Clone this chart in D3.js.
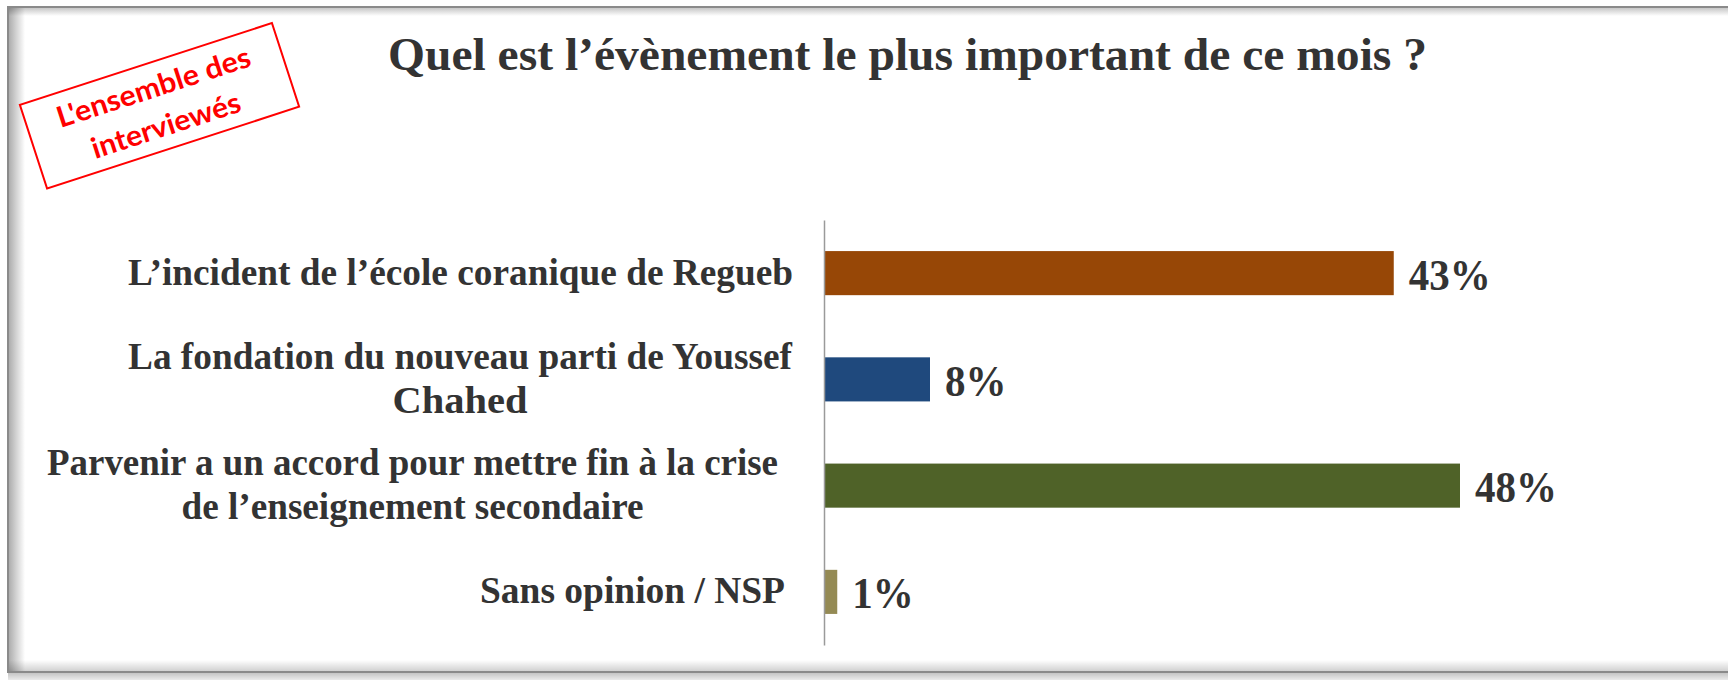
<!DOCTYPE html>
<html><head><meta charset="utf-8">
<script src="https://cdn.jsdelivr.net/npm/d3@7"></script>
<style>html,body{margin:0;padding:0;background:#fff;overflow:hidden}</style>
</head><body>
<svg id="chart" width="1728" height="680"></svg>
<script>
// ---------- data ----------
const title = "Quel est l’évènement le plus important de ce mois ?";
const stampLines = ["L'ensemble des", "interviewés"];
const categories = [
  "L’incident de l’école coranique de Regueb",
  "La fondation du nouveau parti de Youssef Chahed",
  "Parvenir a un accord pour mettre fin à la crise de l’enseignement secondaire",
  "Sans opinion / NSP"
];
const categoryLines = [
  ["L’incident de l’école  coranique de Regueb"],
  ["La fondation du nouveau parti de Youssef", "Chahed"],
  ["Parvenir a un accord pour mettre fin à la crise", "de l’enseignement secondaire"],
  ["Sans opinion / NSP"]
];
const values = [43, 8, 48, 1];
const valueLabels = ["43%", "8%", "48%", "1%"];
const barColors = ["#974706", "#1F497D", "#4F6228", "#948A54"];

// ---------- layout ----------
const W = 1728, H = 680;
const axisX = 824, plotTop = 220, plotBottom = 645;
const pxPerPct = 13.25;
const labelRight = [793, 792, 778, 785];
const lineWidths = [[665], [664, 135], [731, 462], [305]];
const textColor = "#333333";
const serif = "'Liberation Serif','Times New Roman',serif";

const svg = d3.select("#chart");
const defs = svg.append("defs");
function grad(id, x1, y1, x2, y2, stops) {
  const g = defs.append("linearGradient").attr("id", id)
    .attr("x1", x1).attr("y1", y1).attr("x2", x2).attr("y2", y2);
  stops.forEach(s => g.append("stop").attr("offset", s[0]).attr("stop-color", s[1]).attr("stop-opacity", s[2]));
}
grad("gLeft", 0, 0, 1, 0, [[0, "#000", 0.32], [1, "#000", 0]]);
grad("gTop", 0, 0, 0, 1, [[0, "#000", 0.22], [1, "#000", 0]]);
grad("gBottom", 0, 0, 0, 1, [[0, "#000", 0], [1, "#000", 0.18]]);
grad("gUnder", 0, 0, 0, 1, [[0, "#000", 0.25], [1, "#000", 0.08]]);

// frame
svg.append("rect").attr("x", 0).attr("y", 0).attr("width", W).attr("height", H).attr("fill", "#fff");
svg.append("rect").attr("x", 8).attr("y", 672).attr("width", W).attr("height", 8).attr("fill", "url(#gUnder)");
svg.append("rect").attr("x", 8).attr("y", 7).attr("width", W + 20).attr("height", 665)
  .attr("fill", "#fff").attr("stroke", "#8a8a8a").attr("stroke-width", 2);
svg.append("rect").attr("x", 9).attr("y", 8).attr("width", 16).attr("height", 663).attr("fill", "url(#gLeft)");
svg.append("rect").attr("x", 9).attr("y", 8).attr("width", W).attr("height", 8).attr("fill", "url(#gTop)");
svg.append("rect").attr("x", 9).attr("y", 660).attr("width", W).attr("height", 11).attr("fill", "url(#gBottom)");

// title
svg.append("text").attr("x", 388).attr("y", 70)
  .attr("font-family", serif).attr("font-weight", "bold").attr("font-size", 47)
  .attr("fill", textColor).attr("textLength", 1039).attr("lengthAdjust", "spacingAndGlyphs")
  .text(title);

// stamp
const stamp = svg.append("g").attr("transform", "translate(159.5,105.8) rotate(-18)");
stamp.append("rect").attr("x", -132.5).attr("y", -44).attr("width", 265).attr("height", 88)
  .attr("fill", "#fff").attr("stroke", "#ff0000").attr("stroke-width", 2);
const stampW = [202, 155], stampY = [-9.4, 30.7];
stamp.selectAll("text.st").data(stampLines).join("text").attr("class", "st")
  .attr("x", 0).attr("y", (d, i) => stampY[i]).attr("text-anchor", "middle")
  .attr("font-family", "Lato, 'Open Sans', sans-serif").attr("font-weight", "bold").attr("font-size", 29)
  .attr("fill", "#ff0000")
  .attr("textLength", (d, i) => stampW[i]).attr("lengthAdjust", "spacingAndGlyphs")
  .text(d => d);

// scales
const y = d3.scaleBand().domain(categories).range([plotTop, plotBottom])
  .paddingInner(0.585).paddingOuter(0.2925);
const x = d3.scaleLinear().domain([0, 50]).range([axisX, axisX + 50 * pxPerPct]);

const rows = categories.map((c, i) => ({ c, v: values[i], lab: valueLabels[i], lines: categoryLines[i], i }));

// bars
svg.append("g").selectAll("rect").data(rows).join("rect")
  .attr("x", x(0)).attr("y", d => y(d.c))
  .attr("width", d => x(d.v) - x(0)).attr("height", y.bandwidth())
  .attr("fill", d => barColors[d.i]);

// axis line (category axis, no ticks)
const yAxis = d3.axisLeft(y).tickSize(0).tickFormat("");
const ag = svg.append("g").attr("transform", `translate(${axisX},0)`).call(yAxis);
ag.select(".domain").attr("stroke", "#9a9a9a").attr("stroke-width", 1.5);

// value labels
svg.append("g").selectAll("text").data(rows).join("text")
  .attr("x", d => x(d.v) + 15).attr("y", d => y(d.c) + y.bandwidth() / 2 + 16.5)
  .attr("font-family", serif).attr("font-weight", "bold").attr("font-size", 45)
  .attr("fill", textColor).text(d => d.lab)
  .each(function () {
    const w = this.getComputedTextLength();
    d3.select(this).attr("textLength", w * 0.91).attr("lengthAdjust", "spacingAndGlyphs");
  });

// category labels
const lg = svg.append("g");
rows.forEach(d => {
  const cy = y(d.c) + y.bandwidth() / 2;
  const n = d.lines.length;
  const cx = labelRight[d.i] - lineWidths[d.i][0] / 2;
  d.lines.forEach((ln, j) => {
    lg.append("text")
      .attr("x", cx).attr("y", cy + 11.5 + (j - (n - 1) / 2) * 44)
      .attr("text-anchor", "middle")
      .attr("font-family", serif).attr("font-weight", "bold").attr("font-size", 38)
      .attr("fill", textColor)
      .attr("textLength", lineWidths[d.i][j]).attr("lengthAdjust", "spacingAndGlyphs")
      .text(ln);
  });
});
</script>
</body></html>
